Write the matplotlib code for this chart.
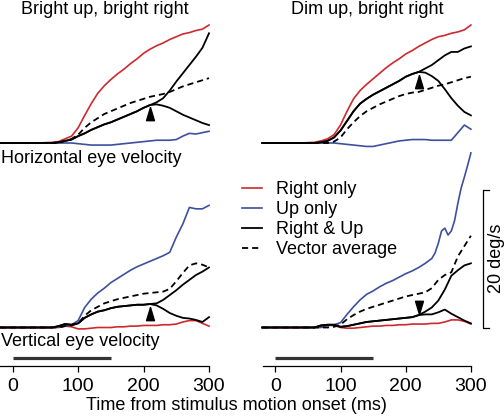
import numpy as np
import matplotlib
matplotlib.use('Agg')
import matplotlib.pyplot as plt
from matplotlib.lines import Line2D
from matplotlib.transforms import blended_transform_factory

plt.rcParams['font.family'] = ['Liberation Sans', 'DejaVu Sans']

# time axis (ms) shared by most traces
t = [-20, 0, 20, 40, 60, 70, 80, 90, 100, 110, 120, 130, 140, 150, 160, 170,
     180, 190, 200, 210, 220, 230, 240, 250, 260, 270, 280, 290, 300]

# Bright up, bright right -- horizontal eye velocity (deg/s)
bb_h_right = [0, 0, 0, 0, 0.1, 0.2, 0.6, 1.0, 2.2, 4.0, 5.7, 7.2, 8.3, 9.2, 10.0, 10.7,
              11.5, 12.2, 13.0, 13.6, 14.1, 14.5, 15.0, 15.4, 15.8, 16.0, 16.3, 16.5, 17.1]
bb_h_up = [0, 0, 0, 0, 0, 0, 0, 0, -0.1, -0.2, -0.3, -0.3, -0.3, -0.3, -0.2, -0.1,
           0.0, 0.1, 0.2, 0.3, 0.4, 0.4, 0.4, 0.5, 1.0, 1.4, 1.3, 1.5, 1.7]
bb_h_both1 = [0, 0, 0, 0, 0, 0.1, 0.3, 0.5, 1.0, 1.4, 1.9, 2.3, 2.7, 3.0, 3.4, 3.8,
              4.2, 4.6, 5.1, 5.5, 5.9, 6.5, 7.6, 8.9, 10.1, 11.3, 12.5, 13.8, 15.9]
bb_h_both2 = [0, 0, 0, 0, 0, 0.1, 0.3, 0.5, 1.0, 1.4, 1.9, 2.3, 2.7, 3.0, 3.4, 3.8,
              4.2, 4.6, 5.1, 5.5, 5.6, 5.4, 5.1, 4.6, 4.1, 3.7, 3.3, 2.9, 2.6]
bb_h_vavg = [0, 0, 0, 0, 0, 0, 0.3, 0.6, 1.2, 2.2, 3.0, 3.6, 4.2, 4.6, 5.0, 5.4,
             5.8, 6.1, 6.4, 6.7, 6.9, 7.1, 7.4, 7.8, 8.2, 8.5, 8.8, 9.1, 9.4]

# Dim up, bright right -- horizontal eye velocity
db_h_right = [0, 0, 0, 0, 0.1, 0.3, 0.6, 1.2, 2.6, 4.6, 6.4, 7.6, 8.5, 9.3, 10.1, 10.9,
              11.6, 12.2, 12.9, 13.4, 14.0, 14.5, 15.0, 15.4, 15.6, 15.9, 16.1, 16.4, 17.1]
db_h_up = [0, 0, 0, 0, 0, 0, 0, 0, -0.1, -0.2, -0.3, -0.4, -0.5, -0.5, -0.3, -0.1,
           0.1, 0.3, 0.4, 0.5, 0.5, 0.5, 0.4, 0.4, 0.4, 0.4, 1.5, 2.6, 2.0]
db_h_both1 = [0, 0, 0, 0, 0, 0.1, 0.3, 0.8, 1.8, 3.2, 4.6, 5.7, 6.4, 7.0, 7.5, 8.0,
              8.5, 9.0, 9.6, 10.0, 10.3, 10.8, 11.3, 12.0, 12.7, 13.2, 13.2, 13.7, 14.0]
db_h_both2 = [0, 0, 0, 0, 0, 0.1, 0.3, 0.8, 1.8, 3.2, 4.6, 5.7, 6.4, 7.0, 7.5, 8.0,
              8.5, 9.0, 9.6, 10.0, 10.3, 10.2, 9.7, 9.0, 7.8, 6.5, 5.4, 4.5, 4.0]
db_h_vavg = [0, 0, 0, 0, 0, 0, 0, 0.2, 0.8, 2.0, 3.0, 3.9, 4.6, 5.1, 5.6, 6.0,
             6.4, 6.8, 7.1, 7.3, 7.4, 7.7, 8.0, 8.3, 8.5, 8.8, 9.1, 9.4, 9.6]

# Bright up, bright right -- vertical eye velocity
bb_v_right = [0, 0, 0, 0, 0, 0, 0.2, 0.1, -0.2, -0.2, -0.1, 0, 0, 0, 0.1, 0.1,
              0.2, 0.2, 0.3, 0.3, 0.3, 0.4, 0.4, 0.5, 0.8, 1.0, 1.0, 0.6, 0.2]
bb_v_up = [0, 0, 0, 0, 0, 0.1, 0.2, 0.4, 1.0, 2.9, 4.1, 5.0, 5.7, 6.5, 7.1, 7.7,
           8.3, 8.8, 9.2, 9.6, 10.0, 10.4, 10.9, 13.1, 15.0, 17.4, 17.2, 17.2, 17.7]
bb_v_both1 = [0, 0, 0, 0, 0, 0.2, 0.5, 0.4, 0.6, 1.4, 1.9, 2.3, 2.5, 2.8, 3.0, 3.1,
              3.2, 3.3, 3.3, 3.4, 3.5, 4.0, 4.7, 5.4, 6.2, 6.9, 7.6, 8.1, 8.7]
bb_v_both2 = [0, 0, 0, 0, 0, 0.2, 0.5, 0.4, 0.6, 1.4, 1.9, 2.3, 2.5, 2.8, 3.0, 3.1,
              3.2, 3.3, 3.3, 3.4, 3.2, 2.7, 2.1, 1.7, 1.4, 1.3, 1.1, 0.8, 1.5]
bb_v_vavg = [0, 0, 0, 0, 0, 0, 0.2, 0.3, 0.6, 1.7, 2.5, 3.0, 3.5, 3.8, 4.1, 4.3,
             4.5, 4.7, 4.9, 5.0, 5.1, 5.2, 5.6, 6.7, 7.9, 9.0, 9.3, 9.1, 8.7]

# Dim up, bright right -- vertical eye velocity
db_v_right = [0, 0, 0, 0, 0, 0.2, 0.3, 0.3, 0.0, -0.1, -0.1, 0.0, 0.1, 0.2, 0.2, 0.3,
              0.3, 0.4, 0.4, 0.5, 0.5, 0.5, 0.6, 0.6, 0.8, 1.1, 1.1, 0.9, 0.5]
db_v_both1 = [0, 0, 0, 0, 0, 0.3, 0.4, 0.4, 0.1, 0.2, 0.4, 0.6, 0.8, 0.9, 1.0, 1.1,
              1.2, 1.3, 1.4, 1.5, 1.8, 2.3, 2.9, 3.9, 5.5, 7.5, 8.3, 9.0, 9.3]
db_v_both2 = [0, 0, 0, 0, 0, 0.3, 0.4, 0.4, 0.1, 0.2, 0.4, 0.6, 0.8, 0.9, 1.0, 1.1,
              1.2, 1.3, 1.4, 1.5, 1.8, 1.9, 1.9, 2.2, 2.6, 2.0, 1.5, 1.0, 0.6]
db_v_vavg = [0, 0, 0, 0, 0, 0, 0, 0.1, 0.4, 1.2, 1.8, 2.3, 2.7, 3.0, 3.3, 3.6,
             3.9, 4.2, 4.5, 4.7, 4.9, 5.1, 5.7, 6.9, 7.6, 8.0, 10.3, 11.8, 13.3]
# up-only trace here has a wiggle, so it gets a finer time base
db_v_up_t = [-20, 0, 40, 70, 80, 90, 100, 110, 120, 130, 140, 150, 160, 170, 180, 190,
             200, 210, 220, 230, 240, 245, 250, 255, 260, 265, 270, 275, 280, 285, 290, 295, 300]
db_v_up = [0, 0, 0, 0, 0.3, 0.4, 0.7, 1.9, 3.0, 4.0, 4.8, 5.3, 5.9, 6.4, 6.8, 7.3,
           7.8, 8.2, 8.7, 9.3, 10.0, 10.8, 12.2, 14.0, 14.4, 13.4, 14.0, 15.5, 18.0, 20.2, 21.8, 23.5, 25.3]

# arrowheads marking divergence of the two Right & Up traces
arrow_t = [210, 221, 210, 220]
arrow_v = [5.2, 9.8, 3.0, 2.0]
arrow_dir = ['up', 'up', 'up', 'down']

stim_on, stim_off = 0, 150
scale_deg = 20

titles = ['Bright up, bright right', 'Dim up, bright right']
red, blue = '#cc2a2e', '#3d4f9f'

W, H = 504, 418
fig = plt.figure(figsize=(W / 100, H / 100), dpi=100)
PX = 6.9  # pixels per deg/s


def rect(x0, x1, ytop, ybot):
    return [x0 / W, 1 - ybot / H, (x1 - x0) / W, (ybot - ytop) / H]


cols = [(0, 209, 12.7), (262.7, 470.9, 275.3)]
top_axes, bot_axes = [], []
for x0, x1, xz in cols:
    xl = -(xz - x0) * 300 / (x1 - xz)
    at = fig.add_axes(rect(x0, x1, 5, 165))
    at.set_xlim(xl, 300)
    at.set_ylim(-(165 - 143) / PX, (143 - 5) / PX)
    at.axis('off')
    ab = fig.add_axes(rect(x0, x1, 140, 365.5))
    ab.set_xlim(xl, 300)
    ab.set_ylim(-(365.5 - 327.5) / PX, (327.5 - 140) / PX)
    ab.patch.set_alpha(0)
    for s in ['top', 'left', 'right']:
        ab.spines[s].set_visible(False)
    ab.spines['bottom'].set_linewidth(0.9)
    ab.set_yticks([])
    ab.set_xticks([0, 100, 200, 300])
    ab.tick_params(axis='x', direction='out', length=4, width=0.9, pad=5, labelsize=14)
    top_axes.append(at)
    bot_axes.append(ab)

panels = [
    (top_axes[0], t, bb_h_right, t, bb_h_up, bb_h_both1, bb_h_both2, bb_h_vavg),
    (top_axes[1], t, db_h_right, t, db_h_up, db_h_both1, db_h_both2, db_h_vavg),
    (bot_axes[0], t, bb_v_right, t, bb_v_up, bb_v_both1, bb_v_both2, bb_v_vavg),
    (bot_axes[1], t, db_v_right, db_v_up_t, db_v_up, db_v_both1, db_v_both2, db_v_vavg),
]
for i, (ax, tr, r, tu, u, b1, b2, va) in enumerate(panels):
    ax.plot(tr, r, color=red, lw=1.2, clip_on=False)
    ax.plot(tu, u, color=blue, lw=1.2, clip_on=False)
    ax.plot(t, va, color='k', lw=1.3, ls=(0, (3.4, 2.2)), clip_on=False)
    ax.plot(t, b2, color='k', lw=1.3, clip_on=False)
    ax.plot(t, b1, color='k', lw=1.3, clip_on=False)
    if arrow_dir[i] == 'up':
        m = [(0, 0), (-0.6, -2), (0.6, -2), (0, 0)]
    else:
        m = [(0, 0), (-0.6, 2), (0.6, 2), (0, 0)]
    ax.plot([arrow_t[i]], [arrow_v[i]], marker=m, ms=19, color='k', ls='none')

# stimulus motion bar
for ax in bot_axes:
    tr = blended_transform_factory(ax.transData, ax.transAxes)
    ax.plot([stim_on, stim_off], [0.034, 0.034], color='#333333', lw=2.3,
            transform=tr, solid_capstyle='butt')

# titles and row labels
for ax, ttl in zip(top_axes, titles):
    pos = ax.get_position()
    fig.text(pos.x0 + pos.width / 2, 1 - 14.5 / H, ttl, ha='center', va='baseline', fontsize=13)
fig.text(1 / W, 1 - 163 / H, 'Horizontal eye velocity', ha='left', va='baseline', fontsize=13)
fig.text(1 / W, 1 - 346.5 / H, 'Vertical eye velocity', ha='left', va='baseline', fontsize=13)
fig.text(236.5 / W, 1 - 409.5 / H, 'Time from stimulus motion onset (ms)', ha='center',
         va='baseline', fontsize=13)

# legend
handles = [Line2D([], [], color=red, lw=1.2), Line2D([], [], color=blue, lw=1.2),
           Line2D([], [], color='k', lw=1.3), Line2D([], [], color='k', lw=1.3, ls=(0, (3.4, 2.2)))]
labels = ['Right only', 'Up only', 'Right & Up', 'Vector average']
fig.legend(handles, labels, loc='upper left', bbox_to_anchor=(241.7 / W, 1 - 181 / H),
           frameon=False, fontsize=13, handlelength=1.15, handletextpad=0.75,
           labelspacing=0.17, borderpad=0, borderaxespad=0)

# scale bar (20 deg/s)
ax = bot_axes[1]
tr = blended_transform_factory(fig.transFigure, ax.transData)
ax.plot([488.7 / W, 483 / W, 483 / W, 488.7 / W], [0, 0, scale_deg, scale_deg],
        color='k', lw=0.9, transform=tr, clip_on=False)
ax.text(496.5 / W, scale_deg / 2, '20 deg/s', rotation=90, ha='center', va='center',
        fontsize=13, transform=tr)

fig.savefig('out.png', dpi=100)
